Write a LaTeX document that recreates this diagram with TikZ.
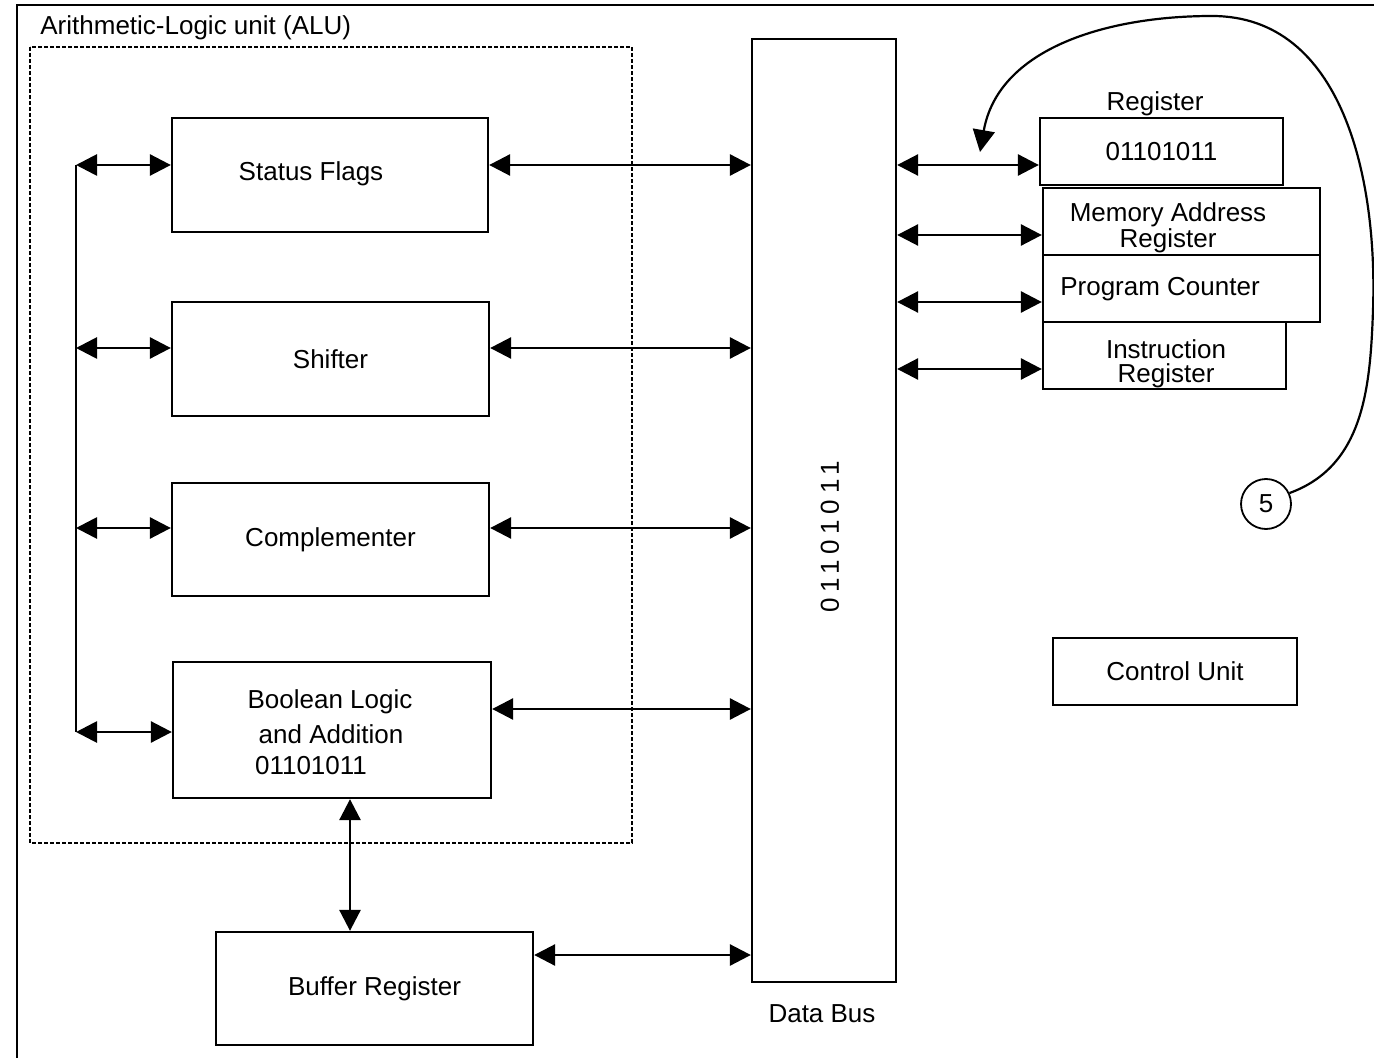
\documentclass[tikz,border=0pt]{standalone}
\usepackage{fontspec}
\setmainfont{Liberation Sans}
\usetikzlibrary{arrows.meta,calc}

\begin{document}
\begin{tikzpicture}[x=0.5pt,y=-0.5pt,
  every node/.style={font=\fontsize{13pt}{12pt}\selectfont, inner sep=0pt},
  blk/.style={draw, line width=1.15pt, rectangle},
  dbl/.style={line width=1.4pt, {Triangle[length=10.5pt,width=10.5pt]}-{Triangle[length=10.5pt,width=10.5pt]}},
  sgl/.style={line width=1.1pt, -{Triangle[length=11pt,width=11pt]}},
  alubox/.style={draw, line width=1pt, dash pattern=on 2pt off 1pt},
  txt/.style={align=center}
]
\useasboundingbox (0,0) rectangle (1374,1058);
\clip (0,0) rectangle (1374,1058);

% outer frame
\draw[line width=1.1pt] (17,1080) -- (17,5) -- (1390,5);

% ALU region
\node[anchor=west] (alulabel) at (40,28) {Arithmetic-Logic unit (ALU)};
\draw[alubox] (30,47) rectangle (632,843);

% ALU blocks
\node[blk, minimum width=158pt, minimum height=57pt] (sf) at (330,175) {};
\node (sftext) at (311,174) {Status Flags};
\node[blk, minimum width=158.5pt, minimum height=57pt] (sh) at (330.5,359) {Shifter};
\node[blk, minimum width=158.5pt, minimum height=56.5pt] (cp) at (330.5,539.5) {Complementer};
\node[blk, minimum width=159pt, minimum height=68pt] (bl) at (332,730) {};
\node (bl1) at (330,702) {Boolean Logic};
\node (bl2) at (331,734) {and Addition};
\node (bl3) at (311,766) {01101011};

% buffer register
\node[blk, minimum width=158.5pt, minimum height=56.5pt] (br) at (374.5,988.5) {Buffer Register};

% data bus
\node[blk, minimum width=72pt, minimum height=471.5pt] (bus) at (824,510.5) {};
\node[rotate=90] (bustext) at (830,537) {\addfontfeature{LetterSpace=22}01101011};
\node (buslabel) at (822,1014) {Data Bus};

% register stack
\node (reglabel) at (1155,104) {Register};
\node[blk, minimum width=121.5pt, minimum height=33.5pt] (r0) at (1161.5,151.5) {01101011};
\node[blk, minimum width=138.5pt, minimum height=33.5pt] (mar) at (1181.5,221.5) {};
\node[txt] (martext) at (1168,228) {Memory Address\\Register};
\node[blk, minimum width=138.5pt, minimum height=33.5pt] (pc) at (1181.5,288.5) {};
\node (pctext) at (1160,289) {Program Counter};
\node[blk, minimum width=121.5pt, minimum height=33.5pt] (ir) at (1164.5,355.5) {};
\node[txt] (irtext) at (1166,364) {Instruction\\Register};

% control unit
\node[blk, minimum width=122pt, minimum height=33.5pt] (cu) at (1175,671.5) {Control Unit};

% step marker
\node[draw, circle, line width=0.9pt, minimum size=25pt] (c5) at (1266,504) {5};
\coordinate (tip) at (980,152);

% spine on the left of the ALU blocks
\coordinate (s1) at (76,165);
\coordinate (s2) at (76,348);
\coordinate (s3) at (76,528);
\coordinate (s4) at (76,732);
\draw[line width=1.4pt] (s1) -- (s4);
\draw[dbl] (s1) -- (s1 -| sf.west);
\draw[dbl] (s2) -- (s2 -| sh.west);
\draw[dbl] (s3) -- (s3 -| cp.west);
\draw[dbl] (s4) -- (s4 -| bl.west);

% ALU blocks to the data bus
\coordinate (b4) at (500,709);
\draw[dbl] (sf.east |- s1) -- (bus.west |- s1);
\draw[dbl] (sh.east |- s2) -- (bus.west |- s2);
\draw[dbl] (cp.east |- s3) -- (bus.west |- s3);
\draw[dbl] (bl.east |- b4) -- (bus.west |- b4);

% boolean unit to buffer, buffer to bus
\draw[dbl] ([xshift=9pt]bl.south) -- ([xshift=9pt]bl.south |- br.north);
\draw[dbl] ([yshift=16.75pt]br.east) -- ([yshift=16.75pt]br.east -| bus.west);

% data bus to the registers
\draw[dbl] ([yshift=-6.75pt]r0.west -| bus.east) -- ([yshift=-6.75pt]r0.west);
\draw[dbl] ([yshift=-6.75pt]mar.west -| bus.east) -- ([yshift=-6.75pt]mar.west);
\draw[dbl] ([yshift=-6.75pt]pc.west -| bus.east) -- ([yshift=-6.75pt]pc.west);
\draw[dbl] ([yshift=-6.75pt]ir.west -| bus.east) -- ([yshift=-6.75pt]ir.west);

% curved pointer from the step marker
\draw[sgl] (c5.25) to[out=20,in=-92] (1373,310) to[out=88,in=0] (1212,16) to[out=180,in=80] (tip);
\end{tikzpicture}
\end{document}
